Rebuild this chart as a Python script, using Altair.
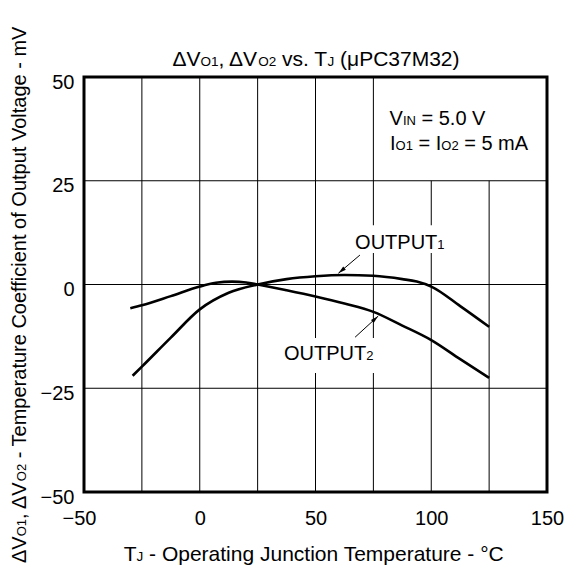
import math
import altair as alt
import pandas as pd

# ---------------- data ----------------
out1_t = [-29, -25, -12.5, 0, 12.5, 25, 37.5, 50, 62.5, 75, 87.5, 93.75, 100, 112.5, 125]
out1_v = [-22.0, -19.8, -12.8, -6.0, -2.0, 0.0, 1.3, 2.0, 2.3, 2.1, 1.3, 0.7, -0.5, -5.2, -10.2]
out2_t = [-30, -25, -12.5, 0, 7, 14, 20, 25, 37.5, 50, 62.5, 75, 87.5, 100, 112.5, 125]
out2_v = [-5.7, -5.0, -2.8, -0.5, 0.4, 0.7, 0.5, 0.0, -1.4, -2.9, -4.6, -6.6, -9.9, -13.4, -18.0, -22.5]

x_ticks = [-50, 0, 50, 100, 150]
y_ticks = [-50, -25, 0, 25, 50]
v_grid = [-25, 0, 25, 50, 75, 100, 125]
h_grid = [-25, 0, 25]

# annotation arrows: (start T, start v, tip T, tip v)
arrows = [(69.2, 7.1, 59.9, 2.7), (67.1, -12.7, 77.1, -7.6)]

# ---------------- geometry ----------------
W, H = 463, 415
XDOM = [-50, 150]
YDOM = [-50, 50]
KX = W / (XDOM[1] - XDOM[0])
KY = H / (YDOM[1] - YDOM[0])
FONT = "Liberation Sans"
BIG, TITLE, SUB, TSUB = 20, 21, 13, 13.5

AW = {' ': 278, 'Δ': 668, 'V': 667, 'O': 778, '1': 556, '2': 556, ',': 278, 'v': 500,
      's': 500, '.': 278, 'T': 611, 'J': 500, '(': 333, ')': 333, 'μ': 577, 'P': 667,
      'C': 722, '3': 556, '7': 556, 'M': 833, '-': 333, 'e': 556, 'm': 833, 'p': 556,
      'r': 333, 'a': 556, 't': 278, 'u': 556, 'f': 278, 'i': 222, 'c': 500, 'n': 556,
      'o': 556, 'g': 556, 'l': 222, 'I': 278, 'N': 722, '=': 584, '5': 556, '0': 556,
      'A': 667, '°': 400, 'U': 722}


def tw(s, size):
    return sum(AW.get(c, 556) for c in s) * size / 1000.0


def build(parts, x0, y0, center=False, vertical=False):
    total = sum(tw(t, s) for t, s in parts)
    off = -total / 2 if center else 0.0
    rows = []
    for t, s in parts:
        lead = len(t) - len(t.lstrip(' '))
        o = off + tw(' ' * lead, s)
        txt = t.strip(' ')
        if vertical:
            rows.append(dict(x=x0, y=y0 + o / KY, text=txt, size=s, angle=270))
        else:
            rows.append(dict(x=x0 + o / KX, y=y0, text=txt, size=s, angle=0))
        off += tw(t, s)
    return rows


texts = []
texts += build([("ΔV", TITLE), ("O1", TSUB), (", ΔV", TITLE), ("O2", TSUB), (" vs. T", TITLE),
                ("J", TSUB), (" (μPC37M32)", TITLE)], 50.2, 52.65, center=True)
texts += build([("T", TITLE), ("J", TSUB), (" - Operating Junction Temperature - °C", TITLE)],
               49.8, -66.6, center=True)
texts += build([("ΔV", BIG), ("O1", SUB), (", ΔV", BIG), ("O2", SUB),
                (" - Temperature Coefficient of Output Voltage - mV", BIG)],
               -74.9, -2.0, center=True, vertical=True)
texts += build([("V", BIG), ("IN", SUB), (" = 5.0 V", BIG)], 82.0, 38.4)
texts += build([("I", BIG), ("O1", SUB), (" = I", BIG), ("O2", SUB), (" = 5 mA", BIG)], 82.2, 32.4)
texts += build([("OUTPUT", BIG), ("1", SUB)], 67.1, 8.55)
texts += build([("OUTPUT", BIG), ("2", SUB)], 36.4, -18.2)
text_df = pd.DataFrame(texts)

curves = pd.DataFrame(
    [dict(T=t, v=v, s="OUTPUT1") for t, v in zip(out1_t, out1_v)]
    + [dict(T=t, v=v, s="OUTPUT2") for t, v in zip(out2_t, out2_v)]
)

# vertical grid lines stop at 25 mV where the condition box sits (x > 75)
vg = pd.DataFrame(dict(x=v_grid, y=[YDOM[0]] * len(v_grid),
                       y2=[YDOM[1] if t <= 75 else 25 for t in v_grid]))
hg = pd.DataFrame(dict(y=h_grid, x=[XDOM[0]] * len(h_grid), x2=[XDOM[1]] * len(h_grid)))

# white backgrounds behind the curve labels (hide grid lines there)
bg = pd.DataFrame(dict(x=[65.8, 35.1], x2=[108.1, 77.9], y=[14.3, -12.9], y2=[7.6, -21.3]))

arr_lines = pd.DataFrame([dict(x=a, y=b, x2=c, y2=d) for a, b, c, d in arrows])
heads = []
for a, b, c, d in arrows:
    dxp = (c - a) * KX
    dyp = -(d - b) * KY
    L = math.hypot(dxp, dyp)
    ang = math.degrees(math.atan2(dxp, -dyp)) % 360
    back = 4.0
    heads.append(dict(x=c - back * dxp / L / KX, y=d + back * dyp / L / KY, angle=ang))
heads = pd.DataFrame(heads)

frame = pd.DataFrame(dict(x=[XDOM[0]], x2=[XDOM[1]], y=[YDOM[0]], y2=[YDOM[1]]))

xs = alt.Scale(domain=XDOM, nice=False, zero=False)
ys = alt.Scale(domain=YDOM, nice=False, zero=False)

x_axis = alt.Axis(values=x_ticks, title=None, grid=False, ticks=False, tickSize=0, domain=False,
                  labelFontSize=BIG, labelFont=FONT, labelColor="black", labelPadding=32,
                  labelBaseline="alphabetic", labelFlush=False, labelOverlap=False,
                  labelOffset={"condition": {"test": "datum.value < 0", "value": -5}, "value": 0})
y_axis = alt.Axis(values=y_ticks, title=None, grid=False, ticks=False, tickSize=0, domain=False,
                  labelFontSize=BIG, labelFont=FONT, labelColor="black", labelPadding=10,
                  labelBaseline="alphabetic", labelOffset=11, labelFlush=False, labelOverlap=False)


def X(f):
    return alt.X(f, scale=xs, axis=x_axis)


def Y(f):
    return alt.Y(f, scale=ys, axis=y_axis)


vgrid = alt.Chart(vg).mark_rule(color="black", strokeWidth=1).encode(
    x=X("x:Q"), y=Y("y:Q"), y2="y2:Q")
hgrid = alt.Chart(hg).mark_rule(color="black", strokeWidth=1).encode(
    x=X("x:Q"), x2="x2:Q", y=Y("y:Q"))
bgs = alt.Chart(bg).mark_rect(color="white").encode(
    x=X("x:Q"), x2="x2:Q", y=Y("y:Q"), y2="y2:Q")
lines = alt.Chart(curves).mark_line(color="black", strokeWidth=2.6, interpolate="monotone").encode(
    x=X("T:Q"), y=Y("v:Q"), detail="s:N")
alines = alt.Chart(arr_lines).mark_rule(color="black", strokeWidth=1).encode(
    x=X("x:Q"), x2="x2:Q", y=Y("y:Q"), y2="y2:Q")
aheads = alt.Chart(heads).mark_point(shape="M0,-1L-0.5,1L0.5,1Z", filled=True, color="black",
                                     size=64, opacity=1).encode(
    x=X("x:Q"), y=Y("y:Q"), angle=alt.Angle("angle:Q", scale=None))
txt = alt.Chart(text_df).mark_text(align="left", baseline="alphabetic", font=FONT,
                                   color="black").encode(
    x=X("x:Q"), y=Y("y:Q"),
    text="text:N", size=alt.Size("size:Q", scale=None), angle=alt.Angle("angle:Q", scale=None))
box = alt.Chart(frame).mark_rect(fillOpacity=0, stroke="black", strokeWidth=3).encode(
    x=X("x:Q"), x2="x2:Q", y=Y("y:Q"), y2="y2:Q")

chart = alt.layer(vgrid, hgrid, bgs, lines, alines, aheads, txt, box).properties(
    width=W, height=H,
    autosize=alt.AutoSizeParams(type="none"),
    padding={"left": 76, "top": 69, "right": 18, "bottom": 73},
    background="white",
).configure_view(stroke=None)

chart.save("out.html", embed_options={"renderer": "svg", "actions": False})
